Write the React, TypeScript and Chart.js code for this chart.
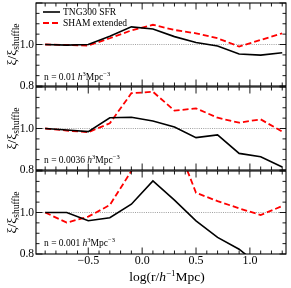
import React, { useEffect, useRef } from 'react';
import { Chart, registerables } from 'chart.js';

Chart.register(...registerables);

// ---- data ----
const logR = [-0.9, -0.7, -0.5, -0.3, -0.1, 0.1, 0.3, 0.5, 0.7, 0.9, 1.1, 1.3];
const tngHigh = [1.0, 0.997, 1.0, 1.04, 1.085, 1.075, 1.038, 1.01, 0.993, 0.954, 0.949, 0.96];
const shamHigh = [1.0, 0.998, 0.995, 1.03, 1.068, 1.095, 1.07, 1.054, 1.03, 0.99, 1.022, 1.054];
const tngMid = [1.0, 0.993, 0.985, 1.052, 1.054, 1.036, 1.007, 0.956, 0.969, 0.88, 0.864, 0.814];
const shamMid = [1.0, 0.99, 0.982, 1.025, 1.17, 1.177, 1.086, 1.097, 1.052, 1.028, 1.044, 0.985];
const tngLow = [1.0, 1.0, 0.96, 0.975, 1.04, 1.152, 1.06, 0.96, 0.88, 0.823, 0.74, 0.68];
const shamLow = [1.0, 0.951, 0.98, 1.036, 1.2, 1.4, 1.36, 1.095, 1.055, 1.02, 0.988, 1.031];
const densityLabels = ['0.01', '0.0036', '0.001'];
const seriesNames = ['TNG300 SFR', 'SHAM extended'];
const xTickValues = [-0.5, 0, 0.5, 1.0];
const yTickValues = [0.8, 1.0];
const xRange = [-0.985, 1.335];
const yRange = [0.8, 1.2];

const SERIF = '"Liberation Serif", "DejaVu Serif", serif';

type Part = { t: string; size: number; italic?: boolean; dy?: number };

function fontOf(p: Part) {
  return `${p.italic ? 'italic ' : ''}${p.size}px ${SERIF}`;
}
function richWidth(ctx: CanvasRenderingContext2D, parts: Part[]) {
  let w = 0;
  for (const p of parts) {
    ctx.font = fontOf(p);
    w += ctx.measureText(p.t).width;
  }
  return w;
}
function drawRich(ctx: CanvasRenderingContext2D, parts: Part[], x: number, y: number) {
  let cx = x;
  for (const p of parts) {
    ctx.font = fontOf(p);
    ctx.fillText(p.t, cx, y + (p.dy || 0));
    cx += ctx.measureText(p.t).width;
  }
}

const panels = [
  { tng: tngHigh, sham: shamHigh, density: densityLabels[0], top: 3, bottom: 86, legend: true, xAxis: false, textUp: 6 },
  { tng: tngMid, sham: shamMid, density: densityLabels[1], top: 87, bottom: 170, legend: false, xAxis: false, textUp: 7.5 },
  { tng: tngLow, sham: shamLow, density: densityLabels[2], top: 171, bottom: 254, legend: false, xAxis: true, textUp: 8.5 },
];

const X_AXIS_H = 34;

function fmtX(v: number) {
  const s = Math.abs(v).toFixed(1);
  return v < 0 ? '\u2212' + s : s;
}

function makePlugin(p: typeof panels[number]) {
  return {
    id: 'panelDecor',
    beforeDatasetsDraw(chart: any) {
      const { ctx, chartArea: a, scales } = chart;
      const py = scales.y.getPixelForValue(1.0);
      ctx.save();
      ctx.strokeStyle = '#888';
      ctx.lineWidth = 0.8;
      ctx.setLineDash([1, 1.2]);
      ctx.beginPath();
      ctx.moveTo(a.left, py);
      ctx.lineTo(a.right, py);
      ctx.stroke();
      ctx.restore();
    },
    afterDraw(chart: any) {
      const { ctx, chartArea: a, scales } = chart;
      const xs = scales.x;
      const ys = scales.y;
      ctx.save();
      ctx.fillStyle = '#000';
      ctx.textBaseline = 'alphabetic';
      ctx.textAlign = 'left';

      // density annotation
      const ann: Part[] = [
        { t: 'n = ' + p.density + ' ', size: 9.5 },
        { t: 'h', size: 9.5, italic: true },
        { t: '3', size: 6.5, dy: -4 },
        { t: 'Mpc', size: 9.5 },
        { t: '\u22123', size: 6.5, dy: -4 },
      ];
      drawRich(ctx, ann, 44, a.bottom - p.textUp);

      // legend
      if (p.legend) {
        ctx.save();
        ctx.lineWidth = 1.6;
        ctx.strokeStyle = '#000';
        ctx.beginPath();
        ctx.moveTo(43, 12);
        ctx.lineTo(60, 12);
        ctx.stroke();
        ctx.strokeStyle = '#ff0000';
        ctx.lineWidth = 1.8;
        ctx.setLineDash([6, 3]);
        ctx.beginPath();
        ctx.moveTo(43, 23);
        ctx.lineTo(60, 23);
        ctx.stroke();
        ctx.restore();
        ctx.textBaseline = 'middle';
        ctx.font = `9.5px ${SERIF}`;
        ctx.fillText(seriesNames[0], 63, 12);
        ctx.fillText(seriesNames[1], 63, 23);
        ctx.textBaseline = 'alphabetic';
      }

      // y title
      const yt: Part[] = [
        { t: '\u03BE/\u03BE', size: 13.5 },
        { t: 'shuffle', size: 9.5, dy: 3 },
      ];
      ctx.save();
      ctx.translate(16, (a.top + a.bottom) / 2);
      ctx.rotate(-Math.PI / 2);
      const w = richWidth(ctx, yt);
      drawRich(ctx, yt, -w / 2, 0);
      ctx.restore();

      // x title
      if (p.xAxis) {
        const xt: Part[] = [
          { t: 'log(r/', size: 13.5 },
          { t: 'h', size: 13.5, italic: true },
          { t: '\u22121', size: 9, dy: -5.5 },
          { t: 'Mpc)', size: 13.5 },
        ];
        const xw = richWidth(ctx, xt);
        drawRich(ctx, xt, 167 - xw / 2, 281);
      }

      // ticks (inward, all sides)
      ctx.strokeStyle = '#000';
      ctx.lineWidth = 0.9;
      ctx.beginPath();
      for (let k = -9; k <= 13; k++) {
        const v = k / 10;
        const px = xs.getPixelForValue(v);
        const len = k % 5 === 0 ? 6.5 : 3.5;
        ctx.moveTo(px, a.bottom);
        ctx.lineTo(px, a.bottom - len);
        ctx.moveTo(px, a.top);
        ctx.lineTo(px, a.top + len);
      }
      for (let k = 16; k <= 24; k++) {
        const v = k / 20;
        const py = ys.getPixelForValue(v);
        const len = k % 4 === 0 ? 6.5 : 3.5;
        ctx.moveTo(a.left, py);
        ctx.lineTo(a.left + len, py);
        ctx.moveTo(a.right, py);
        ctx.lineTo(a.right - len, py);
      }
      ctx.stroke();

      // frame
      ctx.lineWidth = 1.1;
      ctx.strokeRect(a.left, a.top, a.right - a.left, a.bottom - a.top);
      ctx.restore();
    },
  };
}

function makeConfig(p: typeof panels[number]): any {
  return {
    type: 'line',
    data: {
      datasets: [
        {
          label: seriesNames[0],
          data: logR.map((x, i) => ({ x, y: p.tng[i] })),
          borderColor: '#000',
          borderWidth: 1.6,
          pointRadius: 0,
          tension: 0,
          fill: false,
          clip: 0,
        },
        {
          label: seriesNames[1],
          data: logR.map((x, i) => ({ x, y: p.sham[i] })),
          borderColor: '#ff0000',
          borderWidth: 1.8,
          borderDash: [6, 3],
          pointRadius: 0,
          tension: 0,
          fill: false,
          clip: 0,
        },
      ],
    },
    options: {
      animation: false,
      responsive: false,
      maintainAspectRatio: false,
      devicePixelRatio: 1,
      events: [],
      layout: {
        padding: {
          left: 0,
          right: 5,
          top: p.top,
          bottom: 288 - p.bottom - (p.xAxis ? X_AXIS_H : 0),
        },
      },
      plugins: { legend: { display: false }, tooltip: { enabled: false }, title: { display: false } },
      scales: {
        x: {
          type: 'linear',
          min: xRange[0],
          max: xRange[1],
          grid: { display: false, drawTicks: false },
          border: { display: false },
          afterBuildTicks: (s: any) => {
            s.ticks = xTickValues.map((v) => ({ value: v }));
          },
          ticks: {
            display: p.xAxis,
            color: '#000',
            font: { family: SERIF, size: 12 },
            padding: 0,
            maxRotation: 0,
            autoSkip: false,
            callback: (v: any) => fmtX(Number(v)),
          },
          afterFit: (s: any) => {
            s.height = p.xAxis ? X_AXIS_H : 0;
            s.paddingLeft = 0;
            s.paddingRight = 0;
          },
        },
        y: {
          type: 'linear',
          min: yRange[0],
          max: yRange[1],
          grid: { display: false, drawTicks: false },
          border: { display: false },
          afterBuildTicks: (s: any) => {
            s.ticks = yTickValues.map((v) => ({ value: v }));
          },
          ticks: {
            color: '#000',
            font: { family: SERIF, size: 11.5 },
            padding: 2,
            callback: (v: any) => Number(v).toFixed(1),
          },
          afterFit: (s: any) => {
            s.width = 36;
            s.paddingTop = 0;
            s.paddingBottom = 0;
          },
        },
      },
    },
    plugins: [makePlugin(p)],
  };
}

export default function App() {
  const r0 = useRef<HTMLCanvasElement>(null);
  const r1 = useRef<HTMLCanvasElement>(null);
  const r2 = useRef<HTMLCanvasElement>(null);
  useEffect(() => {
    const refs = [r0, r1, r2];
    const charts = panels.map((p, i) => new Chart(refs[i].current as HTMLCanvasElement, makeConfig(p)));
    return () => charts.forEach((c) => c.destroy());
  }, []);
  const refs = [r0, r1, r2];
  return (
    <div style={{ position: 'absolute', left: 0, top: 0, width: 291, height: 288, background: '#fff' }}>
      {panels.map((p, i) => (
        <canvas
          key={i}
          ref={refs[i]}
          width={291}
          height={288}
          style={{ position: 'absolute', left: 0, top: 0, width: 291, height: 288 }}
        />
      ))}
    </div>
  );
}
